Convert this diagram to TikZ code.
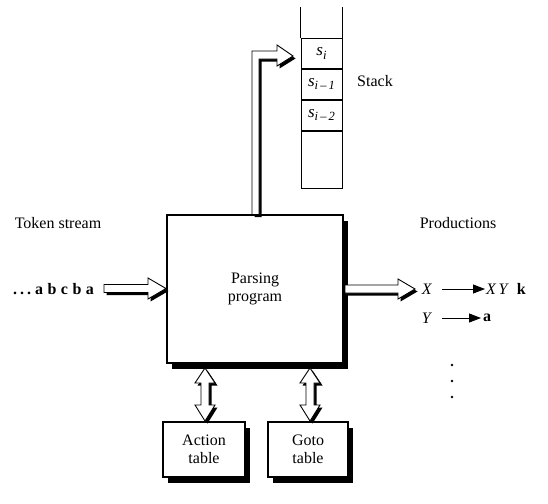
\documentclass[tikz,border=0pt]{standalone}
\usepackage{fontspec}
\setmainfont{Liberation Serif}
\usetikzlibrary{arrows.meta,shadows}
\newcommand\fatpoly[1]{\fill[black,shift={(2.5,2.5)}] #1; \filldraw[fatbody] #1;}
\newcommand\stsub[1]{\raisebox{-3.5pt}{\fontsize{12.5}{13}\selectfont #1}}
\begin{document}
\begin{tikzpicture}[x=1pt,y=-1pt,
  box/.style={draw=black, line width=1.1pt, fill=white, inner sep=0pt, align=center,
     font=\fontsize{16}{18}\selectfont,
     drop shadow={shadow xshift=5pt, shadow yshift=-6pt, fill=black, opacity=1}},
  cell/.style={draw=black, line width=1pt, minimum width=41pt, inner sep=0pt,
     font=\fontsize{17}{18}\selectfont\itshape},
  fatbody/.style={fill=white, draw=black, line width=0.9pt, line join=miter},
  lbl/.style={font=\fontsize{16}{18}\selectfont, inner sep=0pt},
  prod/.style={line width=0.9pt, -{Triangle[length=12pt,width=9pt]}}
]
\useasboundingbox (0,0) rectangle (548,503);

% main box and tables
\node[box, minimum width=176pt, minimum height=148pt] (parser) at (255,289) {Parsing\\program};
\node[box, minimum width=82pt, minimum height=55pt] (action) at (204,449.5) {Action\\table};
\node[box, minimum width=80pt, minimum height=55pt] (goto) at (308,449.5) {Goto\\table};

% stack
\node[cell, minimum height=29pt] (s0) at (321.5,53.5) {s\stsub{i}};
\node[cell, minimum height=30pt, anchor=north] (s1) at (s0.south) {s\stsub{i\,–\,1}};
\node[cell, minimum height=30pt, anchor=north] (s2) at (s1.south) {s\stsub{i\,–\,2}};
\node[cell, minimum height=57pt, anchor=north] (s3) at (s2.south) {};
\coordinate (tl) at ([yshift=31pt]s0.north west);
\coordinate (tr) at ([yshift=31pt]s0.north east);
\draw[line width=1pt] (s0.north west) -- (tl);
\draw[line width=1pt] (s0.north east) -- (tr);
\node[lbl] (stacklbl) at (375,81) {Stack};

% labels
\node[lbl] (tok) at (58,223) {Token stream};
\node[lbl] (input) at (53.5,289) {\textbf{.\hspace{3pt}.\hspace{3pt}.\hspace{4pt}a\hspace{4.5pt}b\hspace{4.5pt}c\hspace{4.5pt}b\hspace{4.5pt}a}};
\node[lbl] (prodlbl) at (458,223) {Productions};

% productions
\node[lbl] (X1) at (427,289) {\textit{X}};
\node[lbl, anchor=west] (r1) at (486,289) {\textit{X\,Y}\,\,\,\textbf{k}};
\draw[prod, shorten <=10pt, shorten >=1pt] (X1.east) -- (r1.west);
\node[lbl] (Y2) at (427,318) {\textit{Y}};
\node[lbl, anchor=west] (r2) at (483,318) {\textbf{a}};
\draw[prod, shorten <=10pt, shorten >=2pt] (Y2.east) -- (r2.west);
\fill (452,365) circle (1.3) (452,381) circle (1.3) (452,397) circle (1.3);

% fat arrows
\fatpoly{(104,284.5) -- (148,284.5) -- (148,278) -- (166,288.5) -- (148,299) -- (148,292.5) -- (104,292.5) -- cycle}
\fatpoly{(345,285) -- (398,285) -- (398,279) -- (415,289) -- (398,299) -- (398,293) -- (345,293) -- cycle}
\fatpoly{(252,214.5) -- (252,51) -- (277,51) -- (277,45) -- (293,56) -- (277,66) -- (277,59) -- (259,59) -- (259,214.5) -- cycle}
\foreach \cx in {205,310}{
\fatpoly{(\cx,368) -- (\cx+10,383) -- (\cx+4,383) -- (\cx+4,405) -- (\cx+10,405) -- (\cx,421) -- (\cx-10,405) -- (\cx-4,405) -- (\cx-4,383) -- (\cx-10,383) -- cycle}
}
\end{tikzpicture}
\end{document}
